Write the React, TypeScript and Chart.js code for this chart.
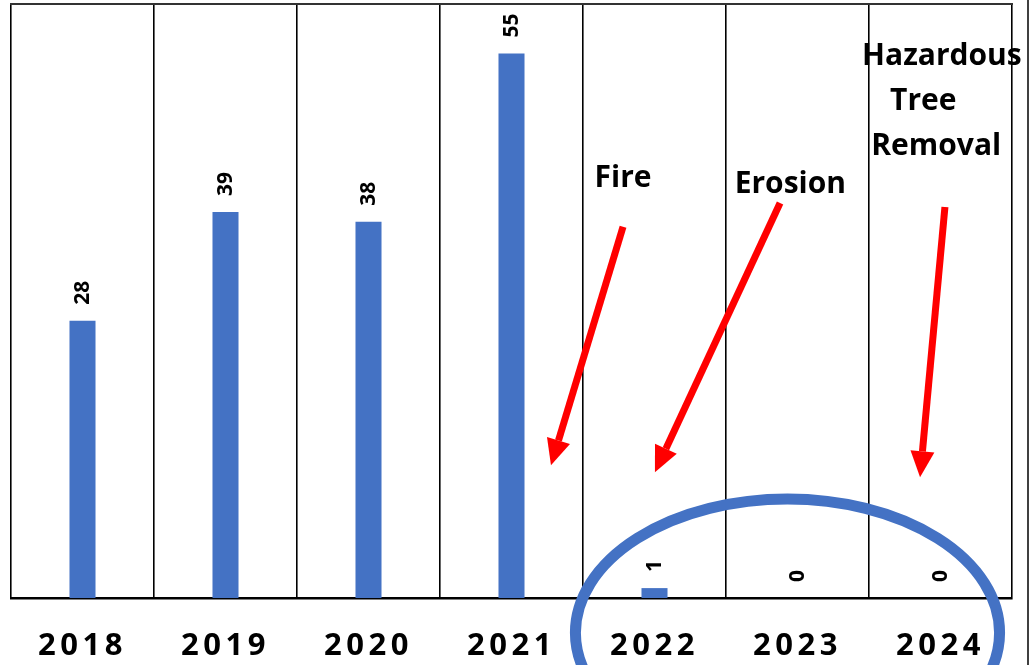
import React, { useEffect, useRef } from "react";
import { Chart, registerables } from "chart.js";

Chart.register(...registerables);

// ---- data ----
const years: string[] = ["2018", "2019", "2020", "2021", "2022", "2023", "2024"];
const counts: number[] = [28, 39, 38, 55, 1, 0, 0];
const yMin = 0;
const yMax = 60;

// ---- annotations (in data coordinates: category index, value) ----
const noteTexts: string[] = ["Fire", "Erosion", "Hazardous", "Tree", "Removal"];
const noteX: number[] = [3.78, 4.95, 6.01, 5.88, 5.97];
const noteY: number[] = [41.5, 40.9, 53.8, 49.3, 44.7];

const arrowFromX: number[] = [3.78, 4.878, 6.031];
const arrowFromY: number[] = [37.5, 39.9, 39.5];
const arrowToX: number[] = [3.276, 4.003, 5.857];
const arrowToY: number[] = [13.4, 12.7, 12.2];

const ringCenter: number[] = [4.93, -3.5];
const ringRadius: number[] = [1.483, 13.5];

const BAR_COLOR = "#4472C4";
const FONT = "'Open Sans', 'Liberation Sans', sans-serif";

const decorPlugin = {
  id: "decor",
  beforeDraw(chart: any) {
    chart.ctx.letterSpacing = "4.5px";
  },
  beforeDatasetsDraw(chart: any) {
    chart.ctx.letterSpacing = "0px";
  },
  afterDatasetsDraw(chart: any) {
    const ctx = chart.ctx as CanvasRenderingContext2D;
    const meta = chart.getDatasetMeta(0);
    ctx.save();
    ctx.fillStyle = "#000";
    ctx.font = `bold 21px ${FONT}`;
    ctx.textAlign = "left";
    ctx.textBaseline = "middle";
    meta.data.forEach((bar: any, i: number) => {
      ctx.save();
      ctx.translate(bar.x + 1, bar.y - 16);
      ctx.rotate(-Math.PI / 2);
      ctx.fillText(String(counts[i]), 0, 0);
      ctx.restore();
    });
    ctx.restore();
  },
  afterDraw(chart: any) {
    const ctx = chart.ctx as CanvasRenderingContext2D;
    const xs = chart.scales.x;
    const ys = chart.scales.y;
    const area = chart.chartArea;
    const px = (v: number) => xs.getPixelForValue(v);
    const py = (v: number) => ys.getPixelForValue(v);
    ctx.save();
    ctx.letterSpacing = "0px";

    // top border
    ctx.strokeStyle = "#333";
    ctx.lineWidth = 2;
    ctx.beginPath();
    ctx.moveTo(area.left - 1, area.top);
    ctx.lineTo(area.right + 1, area.top);
    ctx.stroke();

    // outer page edge line
    ctx.strokeStyle = "#000";
    ctx.lineWidth = 1.5;
    ctx.beginPath();
    ctx.moveTo(chart.width - 2, 0);
    ctx.lineTo(chart.width - 2, chart.height);
    ctx.stroke();

    // notes
    ctx.fillStyle = "#000";
    ctx.font = `bold 30px ${FONT}`;
    ctx.textAlign = "center";
    ctx.textBaseline = "alphabetic";
    noteTexts.forEach((t, i) => {
      ctx.fillText(t, px(noteX[i]), py(noteY[i]));
    });

    // arrows
    ctx.strokeStyle = "#FF0000";
    ctx.fillStyle = "#FF0000";
    arrowFromX.forEach((_, i) => {
      const x0 = px(arrowFromX[i]);
      const y0 = py(arrowFromY[i]);
      const x1 = px(arrowToX[i]);
      const y1 = py(arrowToY[i]);
      const ang = Math.atan2(y1 - y0, x1 - x0);
      const headLen = 26;
      const headHalf = 12;
      const bx = x1 - headLen * Math.cos(ang);
      const by = y1 - headLen * Math.sin(ang);
      ctx.lineWidth = 7;
      ctx.lineCap = "butt";
      ctx.beginPath();
      ctx.moveTo(x0, y0);
      ctx.lineTo(bx, by);
      ctx.stroke();
      ctx.beginPath();
      ctx.moveTo(x1, y1);
      ctx.lineTo(bx + headHalf * Math.sin(ang), by - headHalf * Math.cos(ang));
      ctx.lineTo(bx - headHalf * Math.sin(ang), by + headHalf * Math.cos(ang));
      ctx.closePath();
      ctx.fill();
    });

    // ring
    const cx = px(ringCenter[0]);
    const cy = py(ringCenter[1]);
    const rx = Math.abs(px(ringCenter[0] + ringRadius[0]) - cx);
    const ry = Math.abs(py(ringCenter[1] + ringRadius[1]) - cy);
    ctx.strokeStyle = BAR_COLOR;
    ctx.lineWidth = 11;
    ctx.beginPath();
    ctx.ellipse(cx, cy, rx, ry, 0, 0, Math.PI * 2);
    ctx.stroke();
    ctx.restore();
  },
};

export default function App() {
  const canvasRef = useRef<HTMLCanvasElement | null>(null);

  useEffect(() => {
    if (!canvasRef.current) return;
    const chart = new Chart(canvasRef.current, {
      type: "bar",
      data: {
        labels: years,
        datasets: [
          {
            data: counts,
            backgroundColor: BAR_COLOR,
            borderWidth: 0,
            categoryPercentage: 1,
            barPercentage: 0.182,
          },
        ],
      },
      options: {
        animation: false,
        responsive: false,
        maintainAspectRatio: false,
        layout: { padding: { left: 11, right: 18, top: 4, bottom: 0 } },
        plugins: {
          legend: { display: false },
          tooltip: { enabled: false },
          title: { display: false },
        },
        scales: {
          x: {
            offset: true,
            grid: {
              display: true,
              offset: true,
              color: "#000",
              lineWidth: 1.6,
              drawTicks: false,
            },
            border: { display: true, color: "#000", width: 2.5 },
            ticks: {
              color: "#000",
              padding: 30,
              maxRotation: 0,
              autoSkip: false,
              font: { family: FONT, size: 31, weight: "bold" },
            },
            afterFit: (scale: any) => {
              scale.height = 67;
            },
          },
          y: {
            display: false,
            min: yMin,
            max: yMax,
          },
        },
      },
      plugins: [decorPlugin],
    });
    return () => chart.destroy();
  }, []);

  return (
    <div
      style={{
        position: "fixed",
        left: 0,
        top: 0,
        width: 1030,
        height: 665,
        background: "#fff",
      }}
    >
      <canvas ref={canvasRef} width={1030} height={665} style={{ display: "block" }} />
    </div>
  );
}
